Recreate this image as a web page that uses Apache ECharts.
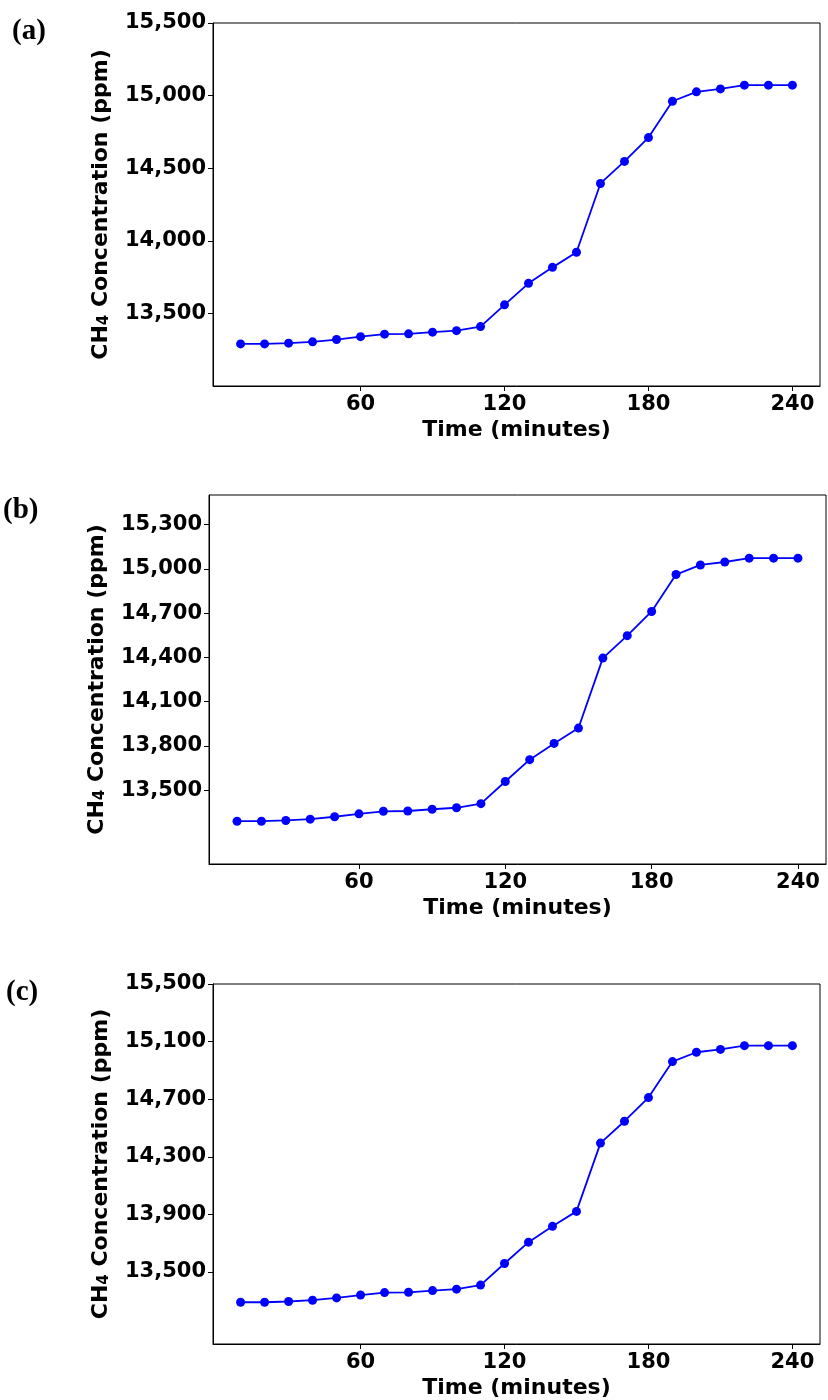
<!DOCTYPE html>
<html><head><meta charset="utf-8">
<script src="https://cdn.jsdelivr.net/npm/echarts@6/dist/echarts.min.js"></script>
<style>html,body{margin:0;padding:0;background:#fff}#c{width:828px;height:1400px}</style>
</head><body><div id="c"></div>
<script>
// Time (minutes)
const times = [10,20,30,40,50,60,70,80,90,100,110,120,130,140,150,160,170,180,190,200,210,220,230,240];
// CH4 concentration (ppm)
const ch4 = [13290,13290,13295,13304,13320,13340,13357,13359,13371,13381,13409,13559,13707,13817,13921,14395,14547,14711,14961,15026,15046,15072,15072,15072];
// tick labels
const xTicks = [60,120,180,240];
const yTicksA = [13500,14000,14500,15000,15500];
const yTicksB = [13500,13800,14100,14400,14700,15000,15300];
const yTicksC = [13500,13900,14300,14700,15100,15500];
const panelLabels = ['(a)','(b)','(c)'];

const grids = [
  {left:213, top:23, width:607, height:363},
  {left:209, top:495, width:617, height:369},
  {left:213, top:984, width:607, height:363}
];
const yTickSets = [yTicksA, yTicksB, yTicksC];
const labelPos = [[12,32],[3,511],[6,993]];

const FONT = 'DejaVu Sans';
const fmt = v => String(v).replace(/\B(?=(\d{3})+(?!\d))/g, ',');

const option = {
  animation:false,
  backgroundColor:'#fff',
  grid: grids.map(g => Object.assign({show:true, borderColor:'#000', borderWidth:1, backgroundColor:'transparent'}, g)),
  xAxis: grids.map((g,i) => ({
    type:'value', gridIndex:i, min:-1.5, max:251.5,
    name:'Time (minutes)', nameLocation:'middle', nameGap:33,
    nameTextStyle:{fontFamily:FONT, fontWeight:'bold', fontSize:22, color:'#000'},
    axisLine:{show:true, onZero:false, lineStyle:{color:'#000', width:1}},
    axisTick:{show:true, length:5, lineStyle:{color:'#000'}, customValues:xTicks},
    axisLabel:{show:true, margin:8, fontFamily:FONT, fontWeight:'bold', fontSize:21, color:'#000', customValues:xTicks},
    splitLine:{show:false}
  })),
  yAxis: grids.map((g,i) => ({
    type:'value', gridIndex:i, min:13000, max:15500,
    name:'CH{sub|4} Concentration (ppm)', nameLocation:'middle', nameGap:101,
    nameTextStyle:{fontFamily:FONT, fontWeight:'bold', fontSize:22, color:'#000',
      rich:{sub:{fontFamily:FONT, fontWeight:'bold', fontSize:15, color:'#000', verticalAlign:'bottom', padding:[7,0,0,0]}}},
    axisLine:{show:true, onZero:false, lineStyle:{color:'#000', width:1}},
    axisTick:{show:true, length:5, lineStyle:{color:'#000'}, customValues:yTickSets[i]},
    axisLabel:{show:true, margin:7, fontFamily:FONT, fontWeight:'bold', fontSize:21, color:'#000', customValues:yTickSets[i], formatter:fmt},
    splitLine:{show:false}
  })),
  series: grids.map((g,i) => ({
    type:'line', xAxisIndex:i, yAxisIndex:i,
    data: times.map((t,k) => [t, ch4[k]]),
    symbol:'circle', symbolSize:9, showSymbol:true,
    lineStyle:{color:'#0000ff', width:1.8},
    itemStyle:{color:'#0000ff'}
  })),
  graphic: panelLabels.map((t,i) => ({
    type:'text', left:labelPos[i][0], top:labelPos[i][1]-15,
    style:{text:t, font:'bold 29px "Liberation Serif"', fill:'#000'}
  }))
};
echarts.init(document.getElementById('c'), null, {renderer:'canvas'}).setOption(option);
</script></body></html>
